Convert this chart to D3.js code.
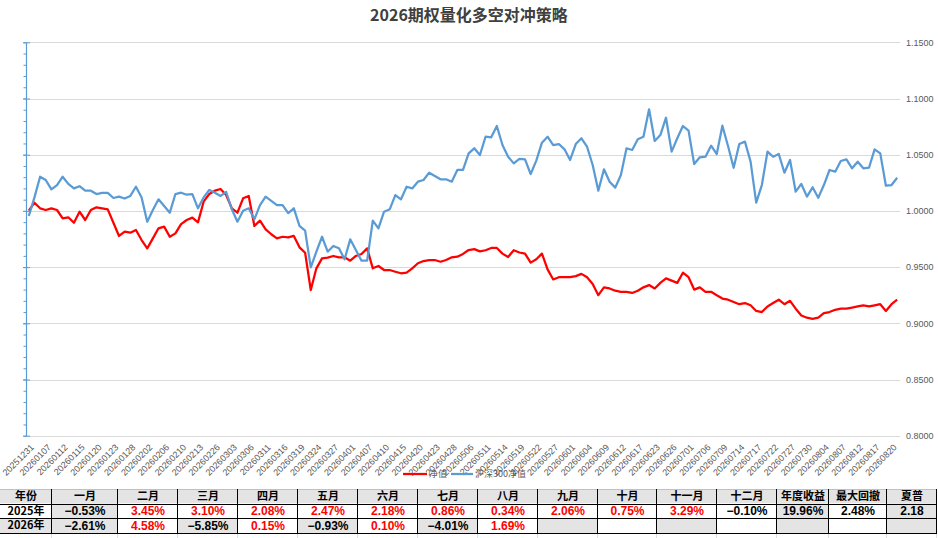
<!DOCTYPE html>
<html>
<head>
<meta charset="utf-8">
<script src="https://cdn.jsdelivr.net/npm/d3@7"></script>
<style>
  body { margin: 0; background: #fff; }
  svg { display: block; font-family: "Liberation Sans", "Noto Sans CJK SC", sans-serif; }
</style>
</head>
<body>
<svg id="chart" width="938" height="538"></svg>
<script>
// ---- data ----
const dates = [
  '20251231','20260105','20260106','20260107','20260108','20260109','20260112','20260113','20260114','20260115',
  '20260116','20260119','20260120','20260121','20260122','20260123','20260126','20260127','20260128','20260129',
  '20260130','20260202','20260204','20260205','20260206','20260207','20260209','20260210','20260211','20260212',
  '20260213','20260224','20260225','20260226','20260227','20260302','20260303','20260304','20260305','20260306',
  '20260309','20260310','20260311','20260312','20260313','20260316','20260317','20260318','20260319','20260320',
  '20260323','20260324','20260325','20260326','20260327','20260330','20260331','20260401','20260402','20260403',
  '20260407','20260408','20260409','20260410','20260413','20260414','20260415','20260416','20260417','20260420',
  '20260421','20260422','20260423','20260424','20260427','20260428','20260429','20260430','20260506','20260507',
  '20260508','20260511','20260512','20260513','20260514','20260515','20260518','20260519','20260520','20260521',
  '20260522','20260525','20260526','20260527','20260528','20260529','20260601','20260602','20260603','20260604',
  '20260605','20260608','20260609','20260610','20260611','20260612','20260615','20260616','20260617','20260618',
  '20260622','20260623','20260624','20260625','20260626','20260629','20260630','20260701','20260702','20260703',
  '20260706','20260707','20260708','20260709','20260710','20260713','20260714','20260715','20260716','20260717',
  '20260720','20260721','20260722','20260723','20260724','20260727','20260728','20260729','20260730','20260731',
  '20260803','20260804','20260805','20260806','20260807','20260810','20260811','20260812','20260813','20260814',
  '20260817','20260818','20260819','20260820','20260821'
];

// 净值
const navValues = [
  1.0002,1.0073,1.0023,1.0008,1.0023,1.0008,0.9934,0.9943,0.9895,0.9993,
  0.9919,1.0008,1.0032,1.0023,1.0014,0.9895,0.9777,0.9815,0.9806,0.9830,
  0.9741,0.9667,0.9756,0.9845,0.9860,0.9770,0.9800,0.9883,0.9919,0.9940,
  0.9898,1.0082,1.0150,1.0180,1.0195,1.0141,1.0023,0.9984,1.0112,1.0133,
  0.9866,0.9913,0.9836,0.9792,0.9756,0.9770,0.9765,0.9777,0.9676,0.9628,
  0.9296,0.9489,0.9578,0.9584,0.9599,0.9587,0.9587,0.9557,0.9599,0.9617,
  0.9667,0.9489,0.9510,0.9474,0.9474,0.9459,0.9445,0.9450,0.9489,0.9534,
  0.9554,0.9563,0.9563,0.9548,0.9563,0.9587,0.9593,0.9617,0.9652,0.9660,
  0.9640,0.9650,0.9670,0.9670,0.9620,0.9590,0.9650,0.9630,0.9620,0.9540,
  0.9570,0.9620,0.9480,0.9390,0.9410,0.9410,0.9410,0.9420,0.9440,0.9410,
  0.9350,0.9250,0.9320,0.9310,0.9290,0.9280,0.9280,0.9270,0.9290,0.9320,
  0.9340,0.9310,0.9360,0.9400,0.9380,0.9360,0.9450,0.9410,0.9300,0.9320,
  0.9280,0.9280,0.9250,0.9220,0.9210,0.9190,0.9170,0.9180,0.9160,0.9110,
  0.9100,0.9150,0.9180,0.9210,0.9170,0.9200,0.9130,0.9070,0.9050,0.9040,
  0.9050,0.9090,0.9100,0.9120,0.9130,0.9130,0.9140,0.9150,0.9160,0.9150,
  0.9160,0.9170,0.9110,0.9170,0.9210
];

// 沪深300净值
const hs300Values = [
  0.9955,1.0120,1.0304,1.0275,1.0192,1.0230,1.0304,1.0240,1.0200,1.0220,
  1.0180,1.0180,1.0150,1.0160,1.0160,1.0115,1.0127,1.0110,1.0133,1.0215,
  1.0120,0.9904,1.0008,1.0103,1.0044,0.9984,1.0150,1.0162,1.0144,1.0150,
  1.0023,1.0120,1.0186,1.0162,1.0133,1.0168,1.0014,0.9904,1.0002,1.0023,
  0.9925,1.0052,1.0127,1.0090,1.0052,1.0052,0.9980,1.0023,0.9866,0.9824,
  0.9498,0.9637,0.9770,0.9637,0.9688,0.9667,0.9570,0.9747,0.9652,0.9557,
  0.9557,0.9913,0.9845,0.9993,1.0014,1.0141,1.0103,1.0215,1.0200,1.0260,
  1.0275,1.0340,1.0310,1.0281,1.0281,1.0260,1.0364,1.0364,1.0512,1.0557,
  1.0497,1.0660,1.0655,1.0755,1.0586,1.0482,1.0423,1.0462,1.0459,1.0328,
  1.0447,1.0607,1.0660,1.0586,1.0595,1.0548,1.0453,1.0595,1.0646,1.0571,
  1.0408,1.0180,1.0370,1.0260,1.0207,1.0320,1.0557,1.0542,1.0637,1.0660,
  1.0904,1.0622,1.0675,1.0829,1.0527,1.0646,1.0755,1.0714,1.0417,1.0477,
  1.0482,1.0580,1.0506,1.0758,1.0577,1.0384,1.0595,1.0616,1.0438,1.0073,
  1.0230,1.0527,1.0482,1.0506,1.0340,1.0453,1.0171,1.0240,1.0127,1.0210,
  1.0117,1.0230,1.0364,1.0349,1.0444,1.0459,1.0379,1.0438,1.0379,1.0384,
  1.0548,1.0512,1.0224,1.0230,1.0295
];

const yTicks = [0.80, 0.85, 0.90, 0.95, 1.00, 1.05, 1.10, 1.15];
const seriesNames = ['净值', '沪深300净值'];

const tableHeaders = ['年份','一月','二月','三月','四月','五月','六月','七月','八月','九月','十月','十一月','十二月','年度收益','最大回撤','夏普'];
const tableYears = ['2025年', '2026年'];
const monthly2025 = [-0.53, 3.45, 3.10, 2.08, 2.47, 2.18, 0.86, 0.34, 2.06, 0.75, 3.29, -0.10];
const monthly2026 = [-2.61, 4.58, -5.85, 0.15, -0.93, 0.10, -4.01, 1.69, null, null, null, null];
const stats2025 = [19.96, 2.48, 2.18];   // 年度收益 %, 最大回撤 %, 夏普
const stats2026 = [null, null, null];

// ---- chart ----
const svg = d3.select('#chart');
const plot = { left: 26, right: 900, top: 42.3, bottom: 435.7 };
const red = '#ff0000';
const blue = '#5b9bd5';
const grey = '#595959';

const xScale = d3.scalePoint().domain(dates).range([plot.left, plot.right]).padding(0.5);
const yScale = d3.scaleLinear().domain([0.80, 1.15]).range([plot.bottom, plot.top]);

svg.append('text')
  .attr('x', 469).attr('y', 21)
  .attr('text-anchor', 'middle')
  .attr('font-family', '"Noto Sans CJK SC", sans-serif')
  .attr('font-size', 16).attr('font-weight', 'bold')
  .attr('fill', '#404040')
  .text('2026期权量化多空对冲策略');

// gridlines + right labels
const rightAxis = svg.append('g')
  .attr('transform', `translate(${plot.right},0)`)
  .call(d3.axisRight(yScale).tickValues(yTicks)
    .tickSize(-(plot.right - plot.left)).tickPadding(6)
    .tickFormat(d3.format('.4f')));
rightAxis.select('.domain').remove();
rightAxis.selectAll('.tick line').attr('stroke', '#d9d9d9').attr('shape-rendering', 'crispEdges');
rightAxis.selectAll('.tick text').attr('fill', grey).attr('font-size', 9)
  .attr('font-family', '"Liberation Sans", sans-serif');

// left axis (minor + major ticks, no labels)
const minorTicks = d3.range(80, 116, 1).map(d => d / 100);
const leftMinor = svg.append('g')
  .attr('transform', `translate(${plot.left},0)`)
  .call(d3.axisLeft(yScale).tickValues(minorTicks).tickSize(2.5).tickFormat(''));
leftMinor.selectAll('line').attr('stroke', blue);
leftMinor.select('.domain').remove();
const leftMajor = svg.append('g')
  .attr('transform', `translate(${plot.left},0)`)
  .call(d3.axisLeft(yScale).tickValues(yTicks).tickSizeInner(3).tickSizeOuter(0).tickFormat(''));
leftMajor.selectAll('.tick line').attr('x1', 4).attr('stroke', blue);
leftMajor.select('.domain').attr('stroke', blue).attr('stroke-width', 1.2);

// x labels, every third trading day
const xAxis = svg.append('g')
  .attr('transform', `translate(0,${plot.bottom})`)
  .call(d3.axisBottom(xScale).tickValues(dates.filter((d, i) => i % 3 === 0)).tickSize(0));
xAxis.select('.domain').remove();
xAxis.selectAll('.tick text')
  .attr('x', 0).attr('y', 0).attr('dy', '0.35em')
  .attr('transform', 'translate(3,10) rotate(-45)')
  .attr('text-anchor', 'end')
  .attr('fill', grey)
  .attr('font-size', 9)
  .attr('font-family', '"Liberation Sans", sans-serif');

// lines
const line = d3.line()
  .x((d, i) => xScale(dates[i]))
  .y(d => yScale(d));
svg.append('path').datum(navValues)
  .attr('d', line).attr('fill', 'none')
  .attr('stroke', red).attr('stroke-width', 2.25).attr('stroke-linejoin', 'round');
svg.append('path').datum(hs300Values)
  .attr('d', line).attr('fill', 'none')
  .attr('stroke', blue).attr('stroke-width', 2.25).attr('stroke-linejoin', 'round');

// legend
const legendItems = [
  { name: seriesNames[0], color: red, x: 403, w: 24 },
  { name: seriesNames[1], color: blue, x: 451, w: 22 }
];
const legend = svg.selectAll('.legend').data(legendItems).join('g')
  .attr('class', 'legend')
  .attr('transform', d => `translate(${d.x},474)`);
legend.append('line')
  .attr('x1', 0).attr('x2', d => d.w)
  .attr('stroke', d => d.color).attr('stroke-width', 2.25);
legend.append('text')
  .attr('x', d => d.w + 2).attr('dy', '0.35em')
  .attr('font-size', 9).attr('fill', grey)
  .attr('font-family', '"Noto Sans CJK SC", sans-serif')
  .text(d => d.name);

// ---- table ----
const colEdges = [0, 52, 118, 178, 238, 298, 358, 418, 478, 538, 598, 657, 717, 777, 829, 887, 937];
const rowEdges = [489, 503.5, 518, 533];
const cellGrey = '#e4e4e4';

const fmtPct = v => (v < 0 ? '\u2212' : '') + Math.abs(v).toFixed(2) + '%';
const rows = [
  tableHeaders.map(t => ({ text: t, v: null, head: true })),
  [{ text: tableYears[0], head: true }].concat(
    monthly2025.map(v => ({ text: v == null ? '' : fmtPct(v), v, month: true })),
    [{ text: fmtPct(stats2025[0]) }, { text: fmtPct(stats2025[1]) }, { text: stats2025[2].toFixed(2) }]),
  [{ text: tableYears[1], head: true }].concat(
    monthly2026.map(v => ({ text: v == null ? '' : fmtPct(v), v, month: true })),
    stats2026.map(v => ({ text: v == null ? '' : String(v) })))
];

const cellFill = (r, c, cell) => {
  if (r === 0) return cellGrey;
  if (c === 0) return r === 2 ? cellGrey : '#fff';
  if (cell.month && cell.v != null && cell.v > 0) return '#fff';
  return c % 2 === 1 ? cellGrey : '#fff';
};

const cells = [];
rows.forEach((row, r) => row.forEach((cell, c) => cells.push(Object.assign({ r, c }, cell))));

const table = svg.append('g').attr('class', 'table');
table.selectAll('rect').data(cells).join('rect')
  .attr('x', d => colEdges[d.c]).attr('y', d => rowEdges[d.r])
  .attr('width', d => colEdges[d.c + 1] - colEdges[d.c])
  .attr('height', d => rowEdges[d.r + 1] - rowEdges[d.r])
  .attr('fill', d => cellFill(d.r, d.c, d));

table.selectAll('text').data(cells).join('text')
  .attr('x', d => (colEdges[d.c] + colEdges[d.c + 1]) / 2)
  .attr('y', d => (rowEdges[d.r] + rowEdges[d.r + 1]) / 2)
  .attr('dy', '0.36em')
  .attr('text-anchor', 'middle')
  .attr('font-size', d => d.head ? 11 : 12).attr('font-weight', 'bold')
  .attr('font-family', d => d.head ? '"Noto Sans CJK SC", sans-serif' : '"Liberation Sans", sans-serif')
  .attr('fill', d => (d.month && d.v > 0) ? red : '#000')
  .text(d => d.text);

// borders
table.append('line')
  .attr('x1', 0).attr('x2', 937).attr('y1', rowEdges[0] + 0.5).attr('y2', rowEdges[0] + 0.5)
  .attr('stroke', '#c0c0c0');
table.selectAll('.hline').data(rowEdges.slice(1)).join('line')
  .attr('class', 'hline')
  .attr('x1', 0).attr('x2', 937)
  .attr('y1', d => Math.round(d) + 0.5).attr('y2', d => Math.round(d) + 0.5)
  .attr('stroke', '#000');
table.selectAll('.vline').data(colEdges.slice(1)).join('line')
  .attr('class', 'vline')
  .attr('x1', d => d - 0.5).attr('x2', d => d - 0.5)
  .attr('y1', rowEdges[0]).attr('y2', rowEdges[3] + 1)
  .attr('stroke', '#000');
table.selectAll('.sheetgrid').data(colEdges.slice(1)).join('line')
  .attr('class', 'sheetgrid')
  .attr('x1', d => d - 0.5).attr('x2', d => d - 0.5)
  .attr('y1', rowEdges[3] + 1).attr('y2', 538)
  .attr('stroke', '#dedede');
</script>
</body>
</html>
